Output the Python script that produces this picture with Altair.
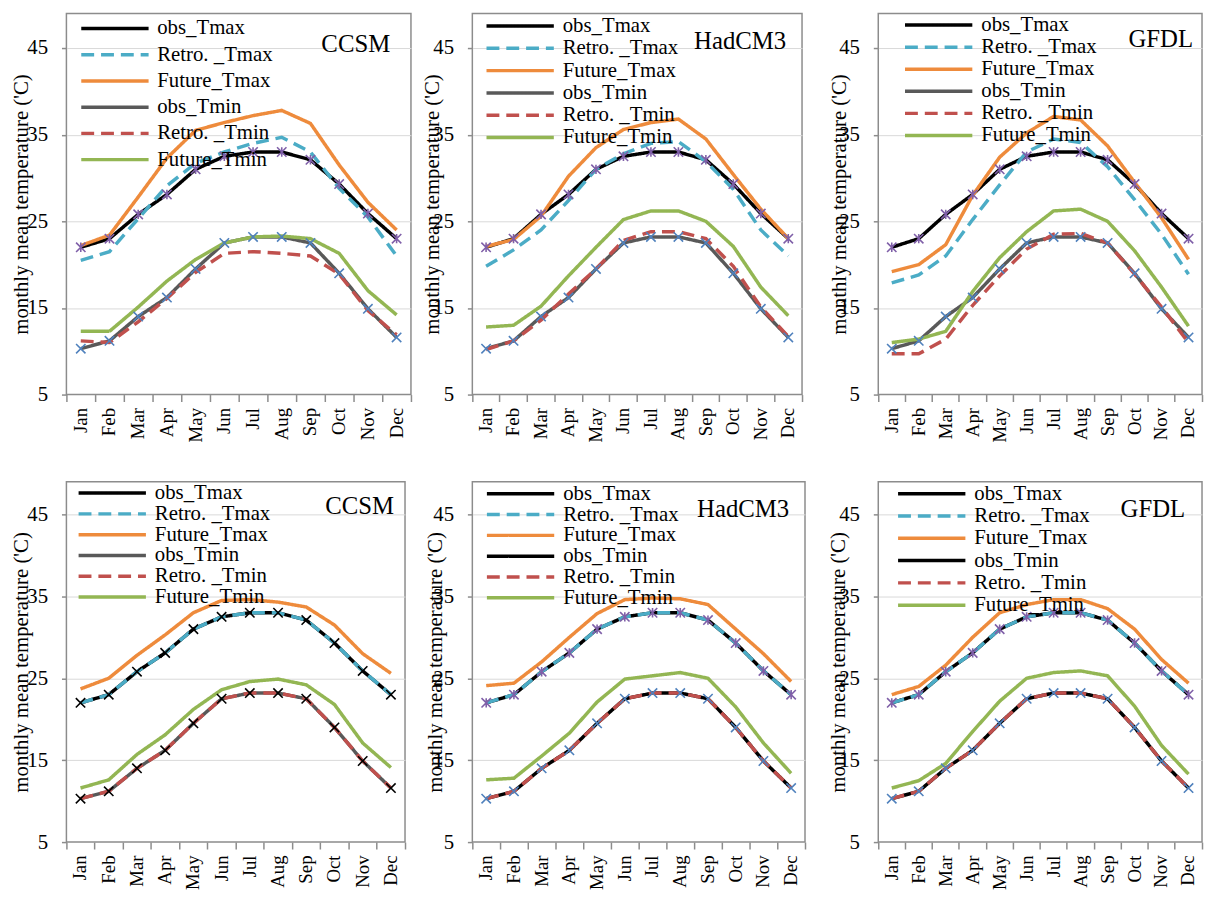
import altair as alt
import pandas as pd

MONTHS = ["Jan", "Feb", "Mar", "Apr", "May", "Jun", "Jul", "Aug", "Sep", "Oct", "Nov", "Dec"]
SERIES = ["obs_Tmax", "Retro. _Tmax", "Future_Tmax", "obs_Tmin", "Retro. _Tmin", "Future_Tmin"]
Y_TICKS = [5, 15, 25, 35, 45]
MODELS = ["CCSM", "HadCM3", "GFDL"]

# observed climatology (same in every panel)
OBS_TMAX = [22.0, 23.0, 25.8, 28.1, 31.0, 32.5, 33.0, 33.0, 32.1, 29.3, 25.9, 23.0]
OBS_TMIN = [10.3, 11.2, 14.0, 16.2, 19.5, 22.5, 23.2, 23.2, 22.5, 19.0, 14.9, 11.6]

# top row (raw GCM output)
CCSM_RETRO_TMAX = [20.5, 21.5, 25.3, 29.1, 31.7, 33.0, 34.0, 34.7, 33.0, 28.8, 25.5, 21.0]
CCSM_FUT_TMAX = [22.2, 23.4, 27.8, 32.3, 35.5, 36.4, 37.2, 37.8, 36.3, 31.5, 27.2, 24.0]
CCSM_RETRO_TMIN = [11.2, 11.0, 13.4, 16.1, 19.1, 21.3, 21.5, 21.3, 21.0, 18.9, 14.7, 11.9]
CCSM_FUT_TMIN = [12.3, 12.3, 15.1, 18.1, 20.6, 22.5, 23.2, 23.3, 23.0, 21.3, 17.0, 14.2]

HAD_RETRO_TMAX = [19.8, 21.7, 24.0, 27.4, 31.0, 32.8, 34.0, 34.2, 31.9, 28.7, 24.0, 21.0]
HAD_FUT_TMAX = [22.1, 22.9, 25.6, 30.2, 33.5, 35.6, 36.4, 36.8, 34.5, 30.4, 26.4, 23.0]
HAD_RETRO_TMIN = [10.2, 11.2, 13.6, 16.6, 19.5, 22.8, 23.8, 23.8, 23.0, 19.8, 15.1, 11.7]
HAD_FUT_TMIN = [12.8, 13.0, 15.2, 18.7, 22.0, 25.2, 26.2, 26.2, 25.0, 22.1, 17.4, 14.1]

GFDL_RETRO_TMAX = [17.9, 18.8, 21.0, 25.2, 29.2, 33.0, 34.5, 34.1, 31.3, 27.5, 23.5, 18.9]
GFDL_FUT_TMAX = [19.2, 20.0, 22.3, 28.0, 32.4, 35.2, 37.1, 36.7, 33.7, 29.5, 25.4, 20.6]
GFDL_RETRO_TMIN = [9.7, 9.7, 11.4, 15.3, 18.7, 21.8, 23.5, 23.6, 22.5, 18.9, 15.1, 11.0]
GFDL_FUT_TMIN = [11.0, 11.4, 12.3, 16.9, 20.8, 23.8, 26.2, 26.4, 25.0, 21.6, 17.4, 12.9]

# bottom row (bias corrected: retro equals observed)
CCSM_BC_FUT_TMAX = [23.7, 25.0, 27.8, 30.3, 33.0, 34.5, 34.6, 34.3, 33.7, 31.5, 28.0, 25.6]
CCSM_BC_FUT_TMIN = [11.6, 12.6, 15.7, 18.1, 21.2, 23.6, 24.6, 24.9, 24.2, 21.8, 17.1, 14.1]
HAD_BC_FUT_TMAX = [24.1, 24.4, 27.0, 30.0, 32.9, 34.6, 34.8, 34.7, 34.0, 31.0, 28.0, 24.6]
HAD_BC_FUT_TMIN = [12.6, 12.8, 15.5, 18.3, 22.1, 24.9, 25.3, 25.7, 25.0, 21.5, 17.1, 13.4]
GFDL_BC_FUT_TMAX = [23.0, 24.0, 26.6, 30.0, 33.0, 34.0, 34.6, 34.6, 33.5, 31.0, 27.3, 24.4]
GFDL_BC_FUT_TMIN = [11.6, 12.5, 14.6, 18.5, 22.2, 25.0, 25.7, 25.9, 25.3, 21.6, 16.8, 13.3]

FONT = "Liberation Serif"
FRAME = "#8C8C8C"
GRAY_LINE = "#595959"
COLORS_GRAY = ["#000000", "#4BACC6", "#EE8B3C", GRAY_LINE, "#C0504D", "#93B653"]
COLORS_BLACK = ["#000000", "#4BACC6", "#EE8B3C", "#000000", "#C0504D", "#93B653"]
DASHES = [[1, 0], [13, 7], [1, 0], [1, 0], [13, 7], [1, 0]]
STAR = "M-1,-1L1,1M-1,1L1,-1M0,-1L0,1"
XMARK = "M-1,-1L1,1M-1,1L1,-1"
PURPLE = "#7F5FA8"
BLUE = "#4F81BD"


def panel(model, values, colors, w, h, leg, title_x, lbl_pos, markers):
    rows = []
    for s, vals in zip(SERIES, values):
        for m, v in zip(MONTHS, vals):
            rows.append({"month": m, "series": s, "temp": v})
    df = pd.DataFrame(rows)
    base = alt.Chart(df)

    x = alt.X("month:N", sort=MONTHS,
              scale=alt.Scale(type="band", domain=MONTHS, paddingInner=0, paddingOuter=0),
              axis=alt.Axis(title=None, grid=False, domain=False, tickSize=7, tickColor=FRAME,
                            tickWidth=1.5, labelAngle=270, labelFontSize=19, labelPadding=6,
                            bandPosition=1, tickExtra=True, labelFont=FONT, labelColor="black"))
    y = alt.Y("temp:Q",
              scale=alt.Scale(domain=[5, 49], nice=False, zero=False),
              axis=alt.Axis(values=Y_TICKS, title="monthly mean temperature ('C)",
                            titleX=title_x, titleBaseline="middle", titleFont=FONT,
                            titleFontSize=21, titleFontWeight="normal", titleColor="black",
                            labelFont=FONT, labelFontSize=21, labelColor="black",
                            labelPadding=14, tickSize=5, tickColor=FRAME, tickWidth=1.5,
                            domain=False, grid=True,
                            gridColor={"condition": {"test": "datum.value === 5", "value": "transparent"},
                                       "value": "#D9D9D9"},
                            gridWidth=1))
    lx, ly, rp, lo = leg
    legend = alt.Legend(orient="none", legendX=lx, legendY=ly, title=None, direction="vertical",
                        symbolType="M-4,0H4", symbolSize=289, symbolStrokeWidth=3.5,
                        symbolOffset=25.5, labelOffset=lo, rowPadding=rp, padding=0,
                        labelFont=FONT, labelFontSize=21, labelColor="black", labelLimit=400)
    color = alt.Color("series:N", scale=alt.Scale(domain=SERIES, range=colors), legend=legend)
    dash = alt.StrokeDash("series:N", scale=alt.Scale(domain=SERIES, range=DASHES), legend=legend)

    layers = []
    for s in SERIES:
        layers.append(
            base.transform_filter(alt.datum.series == s)
            .mark_line(strokeWidth=3.5, strokeCap="butt")
            .encode(x=x, y=y, color=color, strokeDash=dash)
        )
    for s, shape, col in markers:
        layers.append(
            base.transform_filter(alt.datum.series == s)
            .mark_point(shape=shape, size=90, strokeWidth=1.6, filled=False, opacity=1, color=col)
            .encode(x=x, y=y)
        )
    rx, by = lbl_pos
    layers.append(
        alt.Chart(pd.DataFrame({"model": [model]}))
        .mark_text(align="right", baseline="alphabetic", font=FONT, fontSize=25, color="black")
        .encode(text="model:N", x=alt.value(w - rx), y=alt.value(by))
    )
    return alt.layer(*layers).properties(width=w, height=h)


mk_top = [("obs_Tmax", STAR, PURPLE), ("obs_Tmin", XMARK, BLUE)]
mk_ccsm_bc = [("obs_Tmax", XMARK, "#000000"), ("obs_Tmin", XMARK, "#000000")]

H1, H2 = 385, 364

p1 = panel("CCSM", [OBS_TMAX, CCSM_RETRO_TMAX, CCSM_FUT_TMAX, OBS_TMIN, CCSM_RETRO_TMIN, CCSM_FUT_TMIN],
           COLORS_GRAY, 348, H1, (13, 4.7, 4.5, 32.2), -45, (21, 39), mk_top)
p2 = panel("HadCM3", [OBS_TMAX, HAD_RETRO_TMAX, HAD_FUT_TMAX, OBS_TMIN, HAD_RETRO_TMIN, HAD_FUT_TMIN],
           COLORS_GRAY, 333, H1, (12.3, 2.3, 0.5, 32.5), -40, (16, 36), mk_top)
p3 = panel("GFDL", [OBS_TMAX, GFDL_RETRO_TMAX, GFDL_FUT_TMAX, OBS_TMIN, GFDL_RETRO_TMIN, GFDL_FUT_TMIN],
           COLORS_GRAY, 327, H1, (25, 1.3, 0.3, 32.5), -39, (9, 34), mk_top)
p4 = panel("CCSM", [OBS_TMAX, OBS_TMAX, CCSM_BC_FUT_TMAX, OBS_TMIN, OBS_TMIN, CCSM_BC_FUT_TMIN],
           COLORS_GRAY, 342, H2, (10.3, 1, -1.3, 32.5), -45, (11, 33), mk_ccsm_bc)
p5 = panel("HadCM3", [OBS_TMAX, OBS_TMAX, HAD_BC_FUT_TMAX, OBS_TMIN, OBS_TMIN, HAD_BC_FUT_TMIN],
           COLORS_BLACK, 336, H2, (12.7, 1.7, -1.3, 32.5), -37, (16, 36), mk_top)
p6 = panel("GFDL", [OBS_TMAX, OBS_TMAX, GFDL_BC_FUT_TMAX, OBS_TMIN, OBS_TMIN, GFDL_BC_FUT_TMIN],
           COLORS_BLACK, 327, H2, (18, 1.7, 0.5, 32.5), -40, (17, 36), mk_top)

chart = (
    alt.concat(p1, p2, p3, p4, p5, p6, columns=3, spacing={"row": 88, "column": 62},
               bounds="flush", align="all")
    .resolve_scale(x="independent", y="independent", color="independent", strokeDash="independent")
    .resolve_legend(color="independent", strokeDash="independent")
    .properties(padding={"left": 2, "top": 0, "right": 0, "bottom": 0}, background="white")
    .configure_view(stroke=FRAME, strokeWidth=1.5)
)

chart.save("out.html", embed_options={"renderer": "svg", "actions": False})
